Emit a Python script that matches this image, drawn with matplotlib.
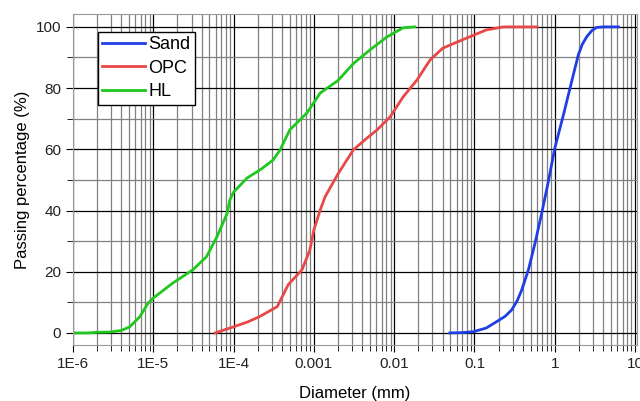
import numpy as np
import matplotlib.pyplot as plt
from matplotlib.ticker import FixedLocator, FixedFormatter, LogLocator, NullFormatter

plt.rcParams['font.family'] = ['Liberation Sans', 'DejaVu Sans']

# curvas granulometricas
sand_d = [0.0495, 0.07, 0.097, 0.14, 0.189, 0.24, 0.29, 0.34, 0.387, 0.469, 0.567, 0.687, 0.83,
          1.0, 1.28, 1.62, 1.96, 2.2, 2.5, 2.9, 3.3, 4.0, 5.0, 6.2]
sand_p = [0.0, 0.1, 0.4, 1.6, 3.7, 5.4, 7.5, 10.5, 14.0, 20.6, 29.3, 39.1, 49.4,
          60.4, 71.2, 82.1, 90.8, 94.3, 96.8, 98.8, 99.8, 100.0, 100.0, 100.0]

opc_d = [5.9e-5, 1.0e-4, 1.5e-4, 2.1e-4, 3.5e-4, 4.8e-4, 7.1e-4, 8.9e-4, 1.0e-3, 1.2e-3,
         1.38e-3, 2.0e-3, 3.1e-3, 4.5e-3, 6.1e-3, 8.9e-3, 0.0129, 0.0193, 0.028, 0.040,
         0.071, 0.14, 0.23, 0.4, 0.6]
opc_p = [0.0, 2.0, 3.6, 5.3, 8.6, 15.8, 20.6, 27.0, 33.7, 40.2,
         44.5, 52.0, 59.8, 63.5, 66.3, 70.6, 77.1, 82.7, 89.2, 93.0,
         95.8, 99.0, 100.0, 100.0, 100.0]

hl_d = [1.0e-6, 1.5e-6, 2.0e-6, 2.9e-6, 4.0e-6, 5.1e-6, 6.8e-6, 8.6e-6, 1.0e-5, 1.75e-5,
        3.1e-5, 4.6e-5, 6.2e-5, 8.3e-5, 9.0e-5, 1.0e-4, 1.47e-4, 2.2e-4, 3.1e-4, 3.8e-4,
        5.0e-4, 8.2e-4, 1.2e-3, 2.0e-3, 3.1e-3, 5.0e-3, 8.1e-3, 0.0129, 0.018]
hl_p = [0.0, 0.0, 0.2, 0.3, 0.8, 2.0, 5.3, 9.7, 11.4, 16.3,
        20.6, 24.9, 31.4, 39.0, 43.5, 46.0, 50.6, 53.5, 56.5, 59.8,
        66.3, 71.9, 78.4, 82.5, 88.0, 92.5, 96.7, 99.7, 100.0]

xticks = [1e-6, 1e-5, 1e-4, 1e-3, 1e-2, 1e-1, 1, 10]
xlabels = ['1E-6', '1E-5', '1E-4', '0.001', '0.01', '0.1', '1', '10']
yticks = [0, 20, 40, 60, 80, 100]

fig = plt.figure(figsize=(6.4, 4.01), dpi=100)
ax = fig.add_axes([0.114, 0.14, 0.881, 0.825])

ax.plot(sand_d, sand_p, c='#1f3ee6', lw=2, label='Sand')
ax.plot(opc_d, opc_p, c='#e84848', lw=2, label='OPC')
ax.plot(hl_d, hl_p, c='#1ec81e', lw=2, label='HL')

ax.set_xscale('log')
ax.set_xlim(1e-6, 10.5)
ax.set_ylim(-3.9, 104.2)
ax.xaxis.set_major_locator(FixedLocator(xticks))
ax.xaxis.set_major_formatter(FixedFormatter(xlabels))
ax.xaxis.set_minor_locator(LogLocator(base=10, subs=np.arange(2, 10), numticks=20))
ax.xaxis.set_minor_formatter(NullFormatter())
ax.set_yticks(yticks)
ax.set_yticks([10, 30, 50, 70, 90], minor=True)

ax.grid(which='major', color='black', lw=0.9)
ax.grid(which='minor', color='#808080', lw=0.9)
ax.tick_params(which='both', direction='out', color='black', labelsize=11, labelcolor='#222222')
ax.tick_params(which='major', length=5)
ax.tick_params(which='minor', length=4)
for s in ax.spines.values():
    s.set_color('#9a9a9a')

ax.set_xlabel('Diameter (mm)', fontsize=12, labelpad=11)
ax.set_ylabel('Passing percentage (%)', fontsize=12)

leg = ax.legend(loc='upper left', bbox_to_anchor=(0.044, 0.946), fontsize=13, fancybox=False,
                framealpha=1, edgecolor='black', handlelength=2.35, handletextpad=0.2,
                labelspacing=0.35, borderpad=0.25, borderaxespad=0)
leg.get_frame().set_linewidth(1)

plt.savefig('out.png', dpi=100)
